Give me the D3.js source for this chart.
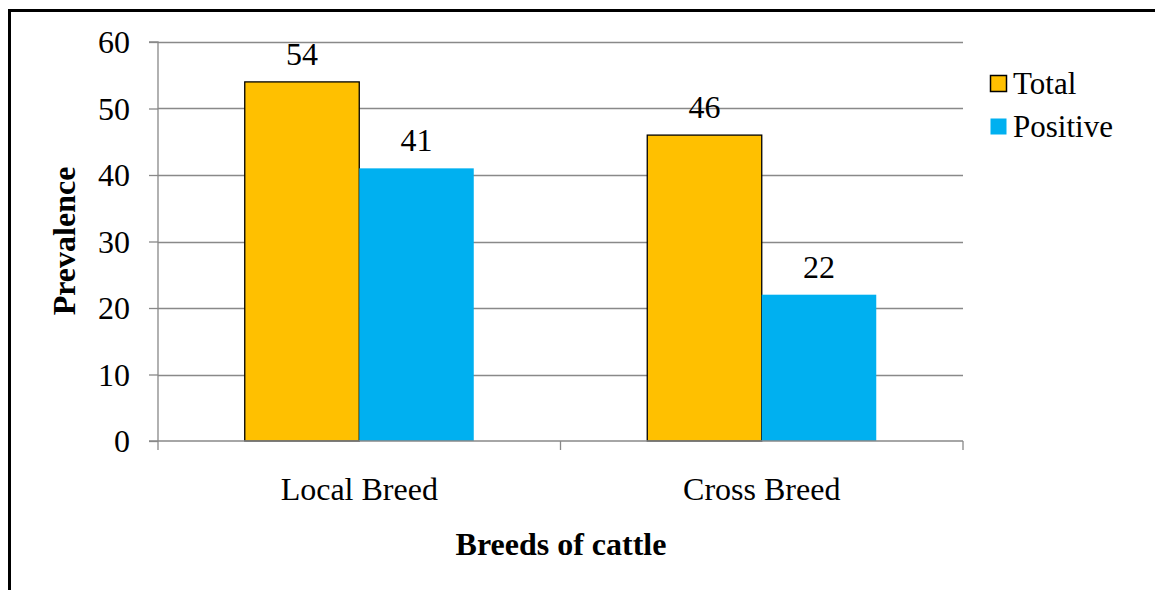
<!DOCTYPE html>
<html><head><meta charset="utf-8">
<script src="https://cdn.jsdelivr.net/npm/d3@7"></script>
<style>body{margin:0;background:#fff}svg{display:block}svg text{font-family:"Liberation Serif","Times New Roman",serif}</style>
</head><body>
<svg id="c" width="1155" height="590"></svg>
<script>
const categories = ["Local Breed", "Cross Breed"];
const seriesNames = ["Total", "Positive"];
const totalValues = [54, 46];
const positiveValues = [41, 22];
const yTicks = [0, 10, 20, 30, 40, 50, 60];
const colors = ["#FFC000", "#00B0F0"];

(function () {
const FF = "Liberation Serif, Times New Roman, serif";
const FS = 32;
const svg = d3.select("#c");
svg.append("path").attr("d", "M9.5,1200 V10.5 H1200").attr("fill", "none").attr("stroke", "#000").attr("stroke-width", 3);

const pl = 158, pr = 963, pt = 42, pb = 441;
const x = d3.scaleBand().domain(categories).range([pl, pr]).paddingInner(0).paddingOuter(0);
const xs = d3.scaleBand().domain(seriesNames).range([0, x.bandwidth()]).paddingInner(0).paddingOuter(0.7576);
const y = d3.scaleLinear().domain([0, 60]).range([pb, pt]);

svg.append("g").selectAll("line").data(yTicks.filter(d => d > 0)).join("line")
  .attr("x1", pl).attr("x2", pr).attr("y1", d => Math.round(y(d)) + 0.5).attr("y2", d => Math.round(y(d)) + 0.5)
  .attr("stroke", "#898989").attr("stroke-width", 1.3);

const series = [totalValues, positiveValues];
const data = [];
categories.forEach((c, i) => seriesNames.forEach((s, j) => data.push({c, s, v: series[j][i], j})));

svg.append("g").selectAll("rect").data(data).join("rect")
  .attr("x", d => x(d.c) + xs(d.s))
  .attr("y", d => y(d.v))
  .attr("width", xs.bandwidth())
  .attr("height", d => pb - y(d.v))
  .attr("fill", d => colors[d.j])
  .attr("stroke", d => d.j === 0 ? "#000" : "none")
  .attr("stroke-width", 1.3);

svg.append("g").selectAll("text").data(data).join("text")
  .attr("x", d => x(d.c) + xs(d.s) + xs.bandwidth() / 2)
  .attr("y", d => y(d.v) - 17)
  .attr("text-anchor", "middle").attr("font-family", FF).attr("font-size", FS).attr("fill", "#000")
  .text(d => d.v);

const ya = d3.axisLeft(y).tickValues(yTicks).tickSize(9).tickPadding(19).tickFormat(d3.format("d"));
const gy = svg.append("g").attr("transform", `translate(${pl},0)`).call(ya);
gy.attr("font-family", FF).attr("font-size", FS);
gy.select(".domain").attr("stroke", "#898989").attr("stroke-width", 1.3).attr("d", `M-9,${pt}H0V${pb}`);
gy.selectAll(".tick line").attr("stroke", "#898989").attr("stroke-width", 1.3);
gy.selectAll(".tick text").attr("font-size", FS).attr("font-family", FF).attr("fill", "#000").attr("dy", "0.34em");

const gx = svg.append("g").attr("transform", `translate(0,${pb})`);
gx.append("line").attr("x1", pl - 9).attr("x2", pr).attr("y1", 0).attr("y2", 0).attr("stroke", "#898989").attr("stroke-width", 1.3);
const bounds = [pl, ...categories.map(c => x(c) + x.bandwidth())];
gx.selectAll("line.t").data(bounds).join("line").attr("class", "t")
  .attr("x1", d => d).attr("x2", d => d).attr("y1", 0).attr("y2", 9).attr("stroke", "#898989").attr("stroke-width", 1.3);
gx.selectAll("text").data(categories).join("text")
  .attr("x", d => x(d) + x.bandwidth() / 2).attr("y", 59)
  .attr("text-anchor", "middle").attr("font-family", FF).attr("font-size", FS).attr("fill", "#000").text(d => d);

svg.append("text").attr("x", 561).attr("y", 555).attr("text-anchor", "middle").attr("font-family", FF)
  .attr("font-size", FS).attr("font-weight", "bold").text("Breeds of cattle");
svg.append("text").attr("transform", "translate(75,241) rotate(-90)").attr("text-anchor", "middle").attr("font-family", FF)
  .attr("font-size", FS).attr("font-weight", "bold").text("Prevalence");

const lg = svg.append("g").attr("transform", "translate(990,75)");
seriesNames.forEach((s, i) => {
  const g = lg.append("g").attr("transform", `translate(0,${i * 43})`);
  g.append("rect").attr("x", 0.5).attr("y", 0.5).attr("width", 16).attr("height", 16)
    .attr("fill", colors[i]).attr("stroke", i === 0 ? "#000" : "none").attr("stroke-width", 1.5);
  g.append("text").attr("x", 23).attr("y", 19).attr("font-family", FF).attr("font-size", 31).attr("fill", "#000").text(s);
});
})();
</script>
</body></html>
